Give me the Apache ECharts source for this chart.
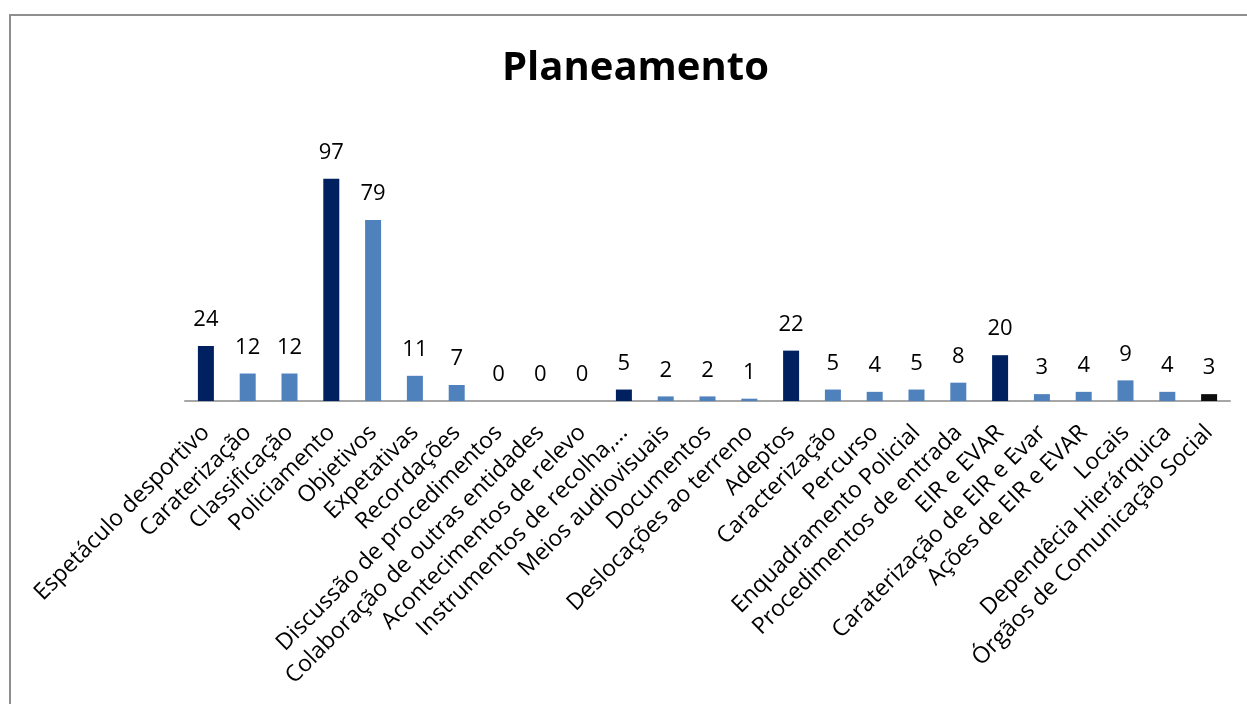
<!DOCTYPE html>
<html>
<head>
<meta charset="utf-8">
<script src="https://cdn.jsdelivr.net/npm/echarts@6/dist/echarts.min.js"></script>
<style>
  html, body { margin: 0; padding: 0; background: #fff; width: 1247px; height: 704px; overflow: hidden; }
  #frame { position: absolute; left: 9px; top: 14px; width: 1400px; height: 900px;
           border-left: 2px solid #8e8e8e; border-top: 2px solid #8e8e8e; }
  #chart { position: absolute; left: 0; top: 0; width: 1247px; height: 704px; }
</style>
</head>
<body>
<div id="frame"></div>
<div id="chart"></div>
<script>
const categories = [
  "Espetáculo desportivo", "Caraterização", "Classificação", "Policiamento",
  "Objetivos", "Expetativas", "Recordações", "Discussão de procedimentos",
  "Colaboração de outras entidades", "Acontecimentos de relevo",
  "Instrumentos de recolha,...", "Meios audiovisuais", "Documentos",
  "Deslocações ao terreno", "Adeptos", "Caracterização", "Percurso",
  "Enquadramento Policial", "Procedimentos de entrada", "EIR e EVAR",
  "Caraterização de EIR e Evar", "Ações de EIR e EVAR", "Locais",
  "Dependêcia Hierárquica", "Órgãos de Comunicação Social"
];
const values = [24, 12, 12, 97, 79, 11, 7, 0, 0, 0, 5, 2, 2, 1, 22, 5, 4, 5, 8, 20, 3, 4, 9, 4, 3];
// level of each category: 0 = main theme, 1 = sub theme, 2 = other
const levels = [0, 1, 1, 0, 1, 1, 1, 1, 1, 1, 0, 1, 1, 1, 0, 1, 1, 1, 1, 0, 1, 1, 1, 1, 2];

const levelColors = ["#002060", "#4F81BD", "#0D0D0D"];

const chart = echarts.init(document.getElementById('chart'), null, { renderer: 'canvas' });
chart.setOption({
  backgroundColor: 'transparent',
  animation: false,
  title: {
    text: 'Planeamento',
    left: 497,
    top: 44,
    textStyle: { fontFamily: 'Open Sans', fontWeight: 'bold', fontSize: 40, color: '#000' }
  },
  grid: { left: 185, right: 17, top: 172, bottom: 303, containLabel: false },
  xAxis: {
    type: 'category',
    data: categories,
    axisLine: { show: true, lineStyle: { color: '#A6A6A6', width: 2 } },
    axisTick: { show: false },
    axisLabel: {
      interval: 0,
      rotate: 45,
      margin: 28,
      padding: [23, 0, 0, 0],
      fontFamily: 'Open Sans',
      fontSize: 23,
      color: '#000'
    }
  },
  yAxis: {
    type: 'value',
    min: 0,
    max: 100,
    show: false,
    splitLine: { show: false }
  },
  series: [{
    type: 'bar',
    barWidth: 16,
    data: values.map((v, i) => ({ value: v, itemStyle: { color: levelColors[levels[i]] } })),
    label: {
      show: true,
      position: 'top',
      distance: 15,
      fontFamily: 'Open Sans',
      fontSize: 22,
      color: '#000'
    }
  }]
});
</script>
</body>
</html>
